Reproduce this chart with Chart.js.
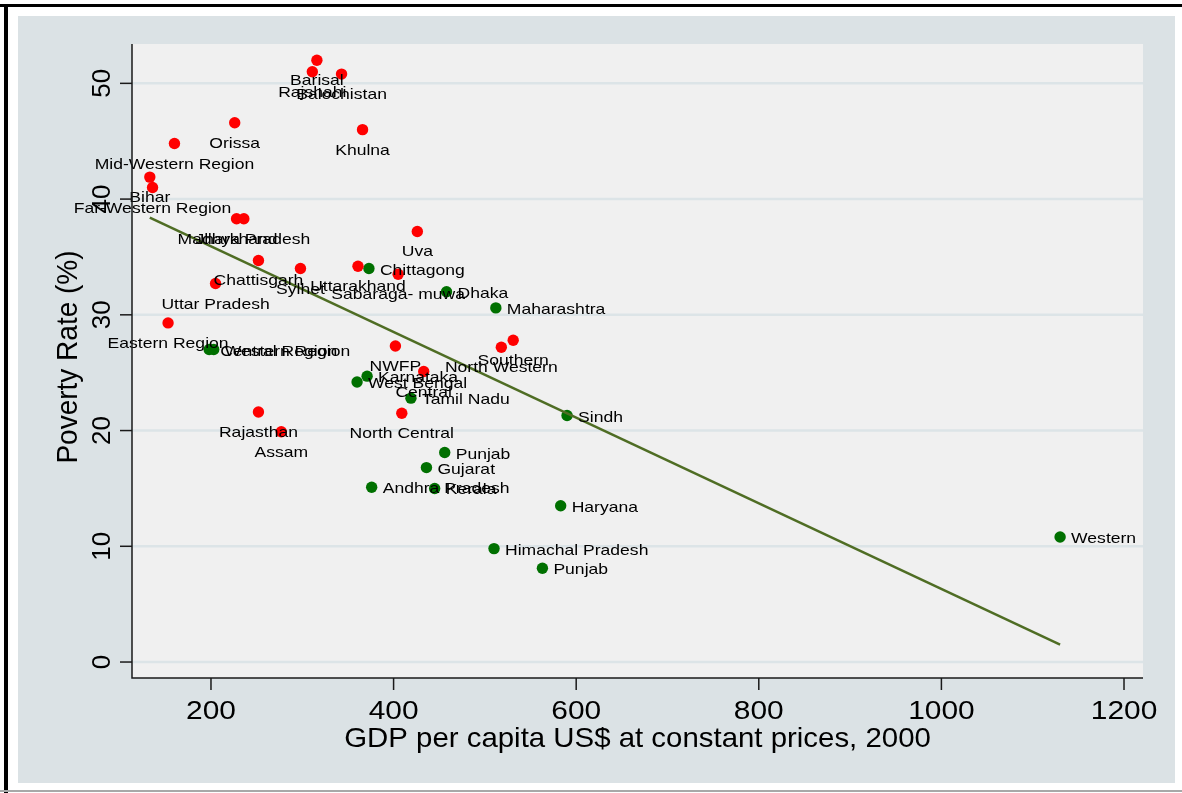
<!DOCTYPE html>
<html>
<head>
<meta charset="utf-8">
<script src="https://cdn.jsdelivr.net/npm/chart.js@4"></script>
<style>
  html, body { margin: 0; padding: 0; background: #fff; }
  #wrap { width: 1182px; height: 793px; }
</style>
</head>
<body>
<div id="wrap"><canvas id="chart" width="1182" height="793"></canvas></div>
<script>
// red markers (labels below the dot)
const redNames = ['Barisal', 'Rajshahi', 'Balochistan', 'Orissa', 'Khulna', 'Mid-Western Region',
  'Bihar', 'Far-Western Region', 'Jharkhand', 'Madhya Pradesh', 'Uva', 'Chattisgarh',
  'Uttar Pradesh', 'Sylhet', 'Uttarakhand', 'Sabaraga- muwa', 'Eastern Region', 'NWFP',
  'Central', 'Southern', 'North Western', 'Rajasthan', 'Assam', 'North Central']
const redGdp = [316, 311, 343, 226, 366, 160, 133, 136, 228, 236, 426, 252,
  205, 298, 361, 405, 153, 402, 433, 531, 518, 252, 277, 409]
const redPoverty = [52.0, 51.0, 50.8, 46.6, 46.0, 44.8, 41.9, 41.0, 38.3, 38.3, 37.2, 34.7,
  32.7, 34.0, 34.2, 33.5, 29.3, 27.3, 25.1, 27.8, 27.2, 21.6, 19.9, 21.5]

// green markers (labels to the right)
const greenNames = ['Chittagong', 'Dhaka', 'Maharashtra', 'Central Region', 'Western Region',
  'Karnataka', 'West Bengal', 'Tamil Nadu', 'Sindh', 'Punjab', 'Gujarat', 'Andhra Pradesh',
  'Kerala', 'Haryana', 'Himachal Pradesh', 'Punjab', 'Western']
const greenGdp = [373, 458, 512, 198, 203, 371, 360, 419, 590, 456, 436, 376,
  445, 583, 510, 563, 1130]
const greenPoverty = [34.0, 32.0, 30.6, 27.0, 27.0, 24.7, 24.2, 22.8, 21.3, 18.1, 16.8, 15.1,
  15.0, 13.5, 9.8, 8.1, 10.8]

// fitted line end points
const fitGdp = [133, 1130]
const fitPoverty = [38.4, 1.5]

const xTicks = [200, 400, 600, 800, 1000, 1200]
const yTicks = [0, 10, 20, 30, 40, 50]

const FONT = '"Liberation Sans", Arial, Helvetica, sans-serif'

function drawText(ctx, s, x, y, size, align, sx, rot) {
  ctx.save()
  ctx.translate(x, y)
  ctx.scale(sx, 1)
  if (rot) ctx.rotate(rot)
  ctx.font = size + 'px ' + FONT
  ctx.textAlign = align
  ctx.textBaseline = 'alphabetic'
  ctx.fillStyle = '#000'
  ctx.fillText(s, 0, 0)
  ctx.restore()
}

const stataLook = {
  id: 'stataLook',
  beforeDraw(chart) {
    const ctx = chart.ctx
    const a = chart.chartArea
    const ys = chart.scales.y
    ctx.save()
    ctx.fillStyle = '#ffffff'
    ctx.fillRect(0, 0, chart.width, chart.height)
    // outer frame
    ctx.fillStyle = '#000'
    ctx.fillRect(0, 4, chart.width, 3)
    ctx.fillRect(4, 4, 4, chart.height - 4)
    ctx.fillStyle = '#a8a8a8'
    ctx.fillRect(0, 790, chart.width, 2)
    // graph region
    ctx.fillStyle = 'rgb(219,226,229)'
    ctx.fillRect(18, 16, 1157, 767)
    // plot region
    ctx.fillStyle = 'rgb(240,240,240)'
    ctx.fillRect(a.left, a.top, a.right - a.left, a.bottom - a.top)
    // grid
    ctx.strokeStyle = 'rgb(220,228,231)'
    ctx.lineWidth = 2.5
    yTicks.forEach(v => {
      const y = ys.getPixelForValue(v)
      ctx.beginPath()
      ctx.moveTo(a.left, y)
      ctx.lineTo(a.right, y)
      ctx.stroke()
    })
    ctx.restore()
  },
  afterDatasetsDraw(chart) {
    const ctx = chart.ctx
    const a = chart.chartArea
    const xs = chart.scales.x
    const ys = chart.scales.y
    ctx.save()
    // point labels
    redNames.forEach((n, i) => {
      const px = xs.getPixelForValue(redGdp[i])
      const py = ys.getPixelForValue(redPoverty[i])
      drawText(ctx, n, px, py + 25, 15, 'center', 1.17)
    })
    greenNames.forEach((n, i) => {
      const px = xs.getPixelForValue(greenGdp[i])
      const py = ys.getPixelForValue(greenPoverty[i])
      drawText(ctx, n, px + 11, py + 6, 15, 'left', 1.17)
    })
    // axes
    ctx.strokeStyle = '#1a1a1a'
    ctx.lineWidth = 1.5
    ctx.beginPath()
    ctx.moveTo(a.left, a.top)
    ctx.lineTo(a.left, a.bottom)
    ctx.lineTo(a.right, a.bottom)
    ctx.stroke()
    yTicks.forEach(v => {
      const y = ys.getPixelForValue(v)
      ctx.beginPath()
      ctx.moveTo(a.left - 12, y)
      ctx.lineTo(a.left, y)
      ctx.stroke()
      drawText(ctx, String(v), 110, y, 26, 'center', 1.0, -Math.PI / 2)
    })
    xTicks.forEach(v => {
      const x = xs.getPixelForValue(v)
      ctx.beginPath()
      ctx.moveTo(x, a.bottom)
      ctx.lineTo(x, a.bottom + 12)
      ctx.stroke()
      drawText(ctx, String(v), x, 719, 26, 'center', 1.15)
    })
    // titles
    drawText(ctx, 'GDP per capita US$ at constant prices, 2000', (a.left + a.right) / 2, 747, 28, 'center', 1.05)
    drawText(ctx, 'Poverty Rate (%)', 77, 357, 28, 'center', 1.05, -Math.PI / 2)
    ctx.restore()
  }
}

const toXY = (xs, ys) => xs.map((x, i) => ({ x: x, y: ys[i] }))

new Chart(document.getElementById('chart'), {
  type: 'scatter',
  data: {
    datasets: [
      {
        label: 'Linear fit',
        data: toXY(fitGdp, fitPoverty),
        showLine: true,
        borderColor: '#4f6d24',
        borderWidth: 2.5,
        pointRadius: 0,
        fill: false
      },
      {
        label: 'Red',
        data: toXY(redGdp, redPoverty),
        backgroundColor: '#ff0000',
        borderWidth: 0,
        pointRadius: 5.7
      },
      {
        label: 'Green',
        data: toXY(greenGdp, greenPoverty),
        backgroundColor: '#007000',
        borderWidth: 0,
        pointRadius: 5.7
      }
    ]
  },
  options: {
    responsive: false,
    devicePixelRatio: 1,
    animation: false,
    events: [],
    layout: { padding: { left: 132, top: 44, right: 39, bottom: 115 } },
    scales: {
      x: { type: 'linear', display: false, min: 113.5, max: 1220.8 },
      y: { type: 'linear', display: false, min: -1.38, max: 53.4 }
    },
    plugins: {
      legend: { display: false },
      tooltip: { enabled: false }
    }
  },
  plugins: [stataLook]
})
</script>
</body>
</html>
